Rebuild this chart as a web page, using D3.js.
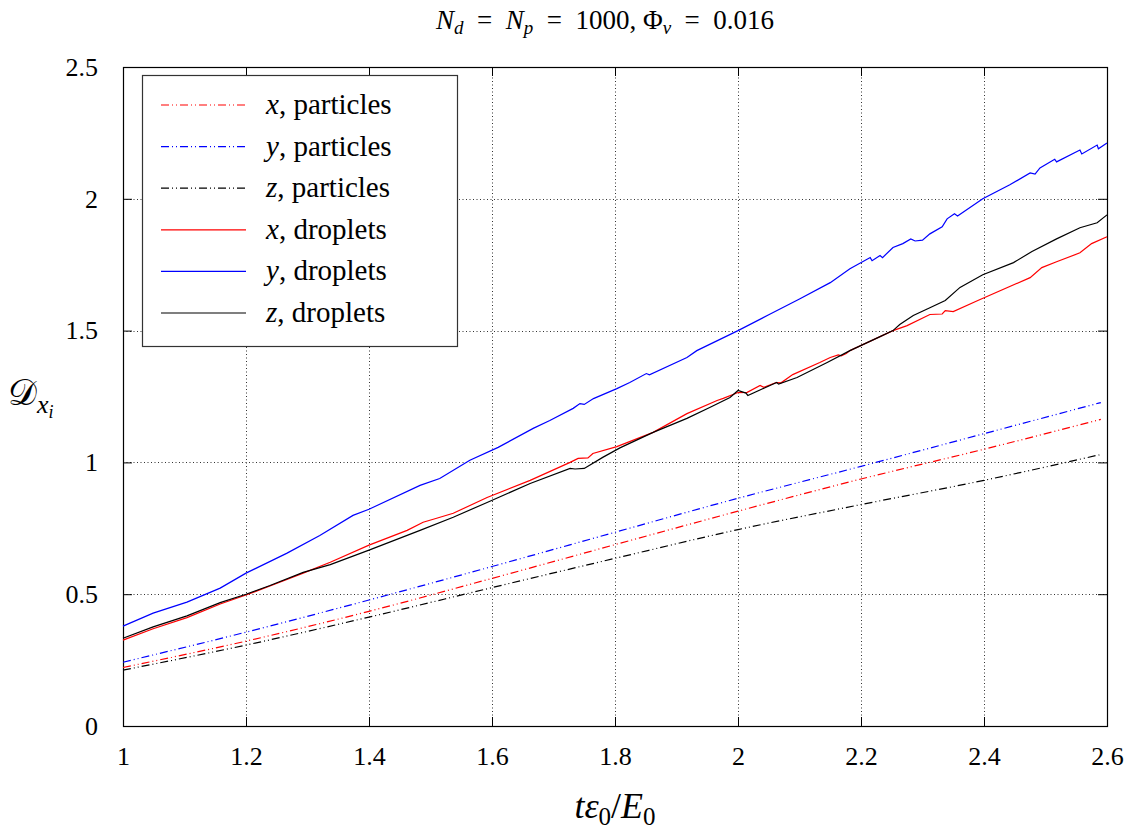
<!DOCTYPE html>
<html>
<head>
<meta charset="utf-8">
<script src="https://cdn.jsdelivr.net/npm/d3@7/dist/d3.min.js"></script>
<style>
  html, body { margin: 0; padding: 0; background: #fff; }
  svg { display: block; }
  text { fill: #000; }
</style>
</head>
<body>
<svg id="chart" width="1132" height="835"></svg>
<script>
// Dispersion coefficient vs. normalised time, N_d = N_p = 1000, Phi_v = 0.016

// Particle series: smooth, sampled on a common time grid
const tParticles = [1.0, 1.2, 1.4, 1.6, 1.8, 2.0, 2.2, 2.4, 2.59];
const xParticles = [0.222, 0.322, 0.435, 0.56, 0.688, 0.815, 0.937, 1.05, 1.163];
const yParticles = [0.242, 0.356, 0.478, 0.605, 0.735, 0.864, 0.985, 1.109, 1.227];
const zParticles = [0.212, 0.307, 0.413, 0.525, 0.636, 0.745, 0.84, 0.932, 1.03];

// Droplet series: [t, D] pairs (noisy, irregular sampling)
const xDroplets = [
  [1.0,0.326],[1.049,0.369],[1.104,0.411],[1.158,0.463],[1.2,0.497],[1.239,0.531],
  [1.293,0.58],[1.337,0.621],[1.4,0.686],[1.462,0.742],[1.488,0.773],[1.51,0.788],
  [1.537,0.807],[1.592,0.867],[1.662,0.932],[1.727,1.0],[1.74,1.015],[1.756,1.017],
  [1.764,1.034],[1.803,1.06],[1.862,1.114],[1.917,1.185],[1.966,1.235],[1.976,1.243],
  [2.0,1.265],[2.015,1.266],[2.036,1.292],[2.042,1.285],[2.062,1.303],[2.07,1.302],
  [2.089,1.333],[2.133,1.379],[2.15,1.398],[2.163,1.408],[2.168,1.404],[2.176,1.413],
  [2.182,1.424],[2.231,1.477],[2.252,1.5],[2.275,1.519],[2.312,1.561],[2.332,1.563],
  [2.337,1.576],[2.35,1.572],[2.39,1.614],[2.475,1.701],[2.494,1.739],[2.518,1.761],
  [2.556,1.795],[2.575,1.83],[2.6,1.856]
];
const yDroplets = [
  [1.0,0.379],[1.049,0.428],[1.104,0.47],[1.158,0.523],[1.2,0.58],[1.266,0.655],
  [1.32,0.723],[1.374,0.799],[1.4,0.822],[1.483,0.913],[1.515,0.939],[1.564,1.008],
  [1.61,1.057],[1.667,1.129],[1.694,1.159],[1.732,1.205],[1.743,1.223],[1.75,1.22],
  [1.765,1.242],[1.803,1.28],[1.824,1.303],[1.851,1.337],[1.856,1.332],[1.917,1.398],
  [1.933,1.424],[2.0,1.5],[2.05,1.56],[2.1,1.62],[2.15,1.682],[2.182,1.735],
  [2.215,1.777],[2.218,1.765],[2.231,1.785],[2.235,1.777],[2.252,1.815],[2.268,1.83],
  [2.281,1.848],[2.288,1.84],[2.3,1.843],[2.312,1.867],[2.332,1.894],[2.34,1.924],
  [2.352,1.943],[2.357,1.935],[2.398,2.0],[2.442,2.053],[2.475,2.098],[2.483,2.094],
  [2.491,2.117],[2.515,2.15],[2.518,2.14],[2.556,2.185],[2.559,2.17],[2.584,2.204],
  [2.586,2.19],[2.6,2.212]
];
const zDroplets = [
  [1.0,0.333],[1.049,0.376],[1.104,0.418],[1.158,0.468],[1.2,0.5],[1.239,0.533],
  [1.293,0.583],[1.337,0.612],[1.4,0.667],[1.483,0.742],[1.537,0.792],[1.592,0.848],
  [1.662,0.92],[1.727,0.977],[1.735,0.975],[1.75,0.977],[1.78,1.019],[1.808,1.055],
  [1.862,1.114],[1.917,1.167],[1.954,1.208],[1.987,1.246],[2.0,1.273],[2.013,1.263],
  [2.016,1.254],[2.052,1.292],[2.063,1.303],[2.066,1.297],[2.096,1.322],[2.145,1.379],
  [2.182,1.424],[2.231,1.477],[2.252,1.5],[2.263,1.523],[2.285,1.557],[2.312,1.587],
  [2.337,1.614],[2.361,1.664],[2.398,1.712],[2.448,1.758],[2.478,1.8],[2.518,1.848],
  [2.556,1.89],[2.584,1.909],[2.6,1.939]
];

const xTicks = [1, 1.2, 1.4, 1.6, 1.8, 2, 2.2, 2.4, 2.6];
const yTicks = [0, 0.5, 1, 1.5, 2, 2.5];

const legendLabels = [
  ["x", ", particles"], ["y", ", particles"], ["z", ", particles"],
  ["x", ", droplets"], ["y", ", droplets"], ["z", ", droplets"]
];

const FONT = "'Liberation Serif', 'DejaVu Serif', 'Noto Serif', 'Times New Roman', serif";

const svg = d3.select("#chart");
const margin = { left: 123, right: 1132 - 1107, top: 67, bottom: 835 - 726 };
const W = 1132, H = 835;
const x = d3.scaleLinear().domain([1, 2.6]).range([margin.left, W - margin.right]);
const y = d3.scaleLinear().domain([0, 2.5]).range([H - margin.bottom, margin.top]);

const dashDotDot = "8,3,1,3,1,3";

// grid
const grid = svg.append("g").attr("stroke", "#333").attr("stroke-width", 1)
  .attr("stroke-dasharray", "1,2.5").attr("fill", "none");
xTicks.slice(1, -1).forEach(v => {
  grid.append("line").attr("x1", x(v) + 0.5).attr("x2", x(v) + 0.5)
    .attr("y1", y(0)).attr("y2", y(2.5));
});
yTicks.slice(1, -1).forEach(v => {
  grid.append("line").attr("x1", x(1)).attr("x2", x(2.6))
    .attr("y1", Math.round(y(v)) + 0.5).attr("y2", Math.round(y(v)) + 0.5);
});

// axes with inward ticks on all four sides
const tickLen = 9;
const fmt = d => String(d);
const axB = d3.axisBottom(x).tickValues(xTicks).tickSizeInner(-tickLen).tickSizeOuter(0).tickPadding(tickLen + 12).tickFormat(fmt);
const axT = d3.axisTop(x).tickValues(xTicks).tickSizeInner(-tickLen).tickSizeOuter(0).tickFormat("");
const axL = d3.axisLeft(y).tickValues(yTicks).tickSizeInner(-tickLen).tickSizeOuter(0).tickPadding(tickLen + 16).tickFormat(fmt);
const axR = d3.axisRight(y).tickValues(yTicks).tickSizeInner(-tickLen).tickSizeOuter(0).tickFormat("");

function styleAxis(g) {
  g.attr("font-family", null).attr("font-size", null);
  g.select(".domain").remove();
  g.selectAll("line").attr("stroke", "#000").attr("stroke-width", 1);
  g.selectAll("text").style("font-family", FONT).style("font-size", "26px").attr("fill", "#000");
}
svg.append("g").attr("transform", `translate(0,${y(0)})`).call(axB).call(styleAxis);
svg.append("g").attr("transform", `translate(0,${y(2.5)})`).call(axT).call(styleAxis);
svg.append("g").attr("transform", `translate(${x(1)},0)`).call(axL).call(styleAxis);
svg.append("g").attr("transform", `translate(${x(2.6)},0)`).call(axR).call(styleAxis);

// frame
svg.append("rect").attr("x", x(1) + 0.5).attr("y", y(2.5) + 0.5)
  .attr("width", x(2.6) - x(1)).attr("height", y(0) - y(2.5))
  .attr("fill", "none").attr("stroke", "#000").attr("stroke-width", 1.2);

// curves
const plot = svg.append("g");
const lineP = d3.line().x(d => x(d[0])).y(d => y(d[1])).curve(d3.curveMonotoneX);
const lineD = d3.line().x(d => x(d[0])).y(d => y(d[1]));
const zipP = vals => tParticles.map((t, i) => [t, vals[i]]);

const series = [
  { data: zipP(xParticles), color: "#ff0000", dash: dashDotDot, line: lineP },
  { data: zipP(yParticles), color: "#0000ff", dash: dashDotDot, line: lineP },
  { data: zipP(zParticles), color: "#000000", dash: dashDotDot, line: lineP },
  { data: xDroplets, color: "#ff0000", dash: null, line: lineD },
  { data: yDroplets, color: "#0000ff", dash: null, line: lineD },
  { data: zDroplets, color: "#000000", dash: null, line: lineD }
];
series.forEach(s => {
  plot.append("path").attr("d", s.line(s.data)).attr("fill", "none")
    .attr("stroke", s.color).attr("stroke-width", 1.2)
    .attr("stroke-dasharray", s.dash);
});

// legend
const lg = svg.append("g");
lg.append("rect").attr("x", 142.5).attr("y", 75.5).attr("width", 315).attr("height", 271)
  .attr("fill", "#fff").attr("stroke", "#333").attr("stroke-width", 1.2);
series.forEach((s, i) => {
  const yy = 105 + i * 41.6;
  lg.append("line").attr("x1", 161).attr("x2", 246).attr("y1", yy).attr("y2", yy)
    .attr("stroke", s.color).attr("stroke-width", 1.2).attr("stroke-dasharray", s.dash);
  const t = lg.append("text").attr("x", 266).attr("y", yy + 9)
    .style("font-family", FONT).style("font-size", "29px");
  t.append("tspan").attr("font-style", "italic").text(legendLabels[i][0]);
  t.append("tspan").text(legendLabels[i][1]);
});

// title
const sp = "\u2002";
const title = svg.append("text").attr("x", 605).attr("y", 29).attr("text-anchor", "middle")
  .style("font-family", FONT).style("font-size", "27px");
title.append("tspan").attr("font-style", "italic").text("N");
title.append("tspan").attr("font-style", "italic").attr("font-size", 19).attr("dy", 5).text("d");
title.append("tspan").attr("dy", -5).text(sp + "=" + sp);
title.append("tspan").attr("font-style", "italic").text("N");
title.append("tspan").attr("font-style", "italic").attr("font-size", 19).attr("dy", 5).text("p");
title.append("tspan").attr("dy", -5).text(sp + "=" + sp + "1000, Φ");
title.append("tspan").attr("font-style", "italic").attr("font-size", 19).attr("dy", 5).text("v");
title.append("tspan").attr("dy", -5).text(sp + "=" + sp + "0.016");

// y-axis label
const yl = svg.append("text").attr("x", 8).attr("y", 405).style("font-family", FONT).style("font-size", "36px");
yl.append("tspan").text("𝒟");
yl.append("tspan").attr("font-style", "italic").attr("font-size", 26).attr("dy", 8).text("x");
yl.append("tspan").attr("font-style", "italic").attr("font-size", 18).attr("dy", 5).text("i");

// x-axis label
const xl = svg.append("text").attr("x", 615).attr("y", 818).attr("text-anchor", "middle")
  .style("font-family", FONT).style("font-size", "36px");
xl.append("tspan").attr("font-style", "italic").text("tε");
xl.append("tspan").attr("font-size", 25).attr("dy", 7).text("0");
xl.append("tspan").attr("dy", -7).text("/");
xl.append("tspan").attr("font-style", "italic").text("E");
xl.append("tspan").attr("font-size", 25).attr("dy", 7).text("0");
</script>
</body>
</html>
